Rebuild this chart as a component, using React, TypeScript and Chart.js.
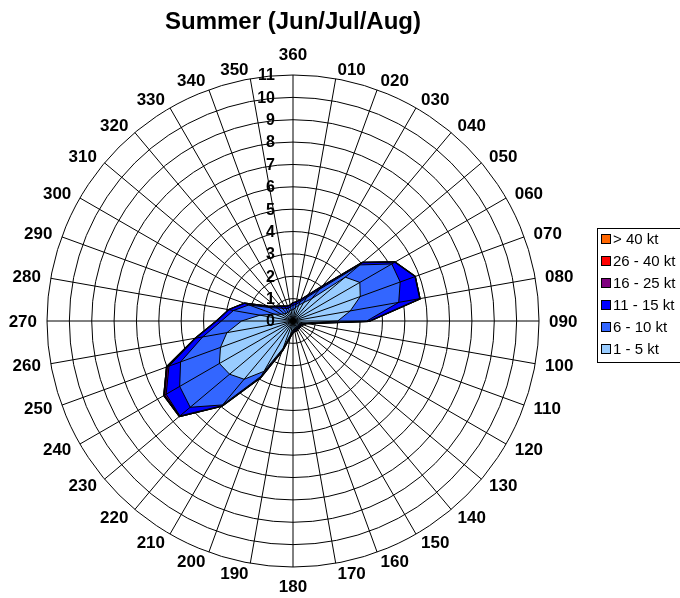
import React, { useEffect, useRef } from "react";
import { Chart, registerables } from "chart.js";

Chart.register(...registerables);

const titleText = "Summer (Jun/Jul/Aug)";

const directions = [
  "360", "010", "020", "030", "040", "050", "060", "070", "080", "090",
  "100", "110", "120", "130", "140", "150", "160", "170", "180", "190",
  "200", "210", "220", "230", "240", "250", "260", "270", "280", "290",
  "300", "310", "320", "330", "340", "350",
];

const seriesLabels = ["1 - 5 kt", "6 - 10 kt", "11 - 15 kt", "16 - 25 kt", "26 - 40 kt", "> 40 kt"];
const seriesColors = ["#99CCFF", "#3366FF", "#0000FF", "#800080", "#FF0000", "#FF6600"];
const seriesBorderWidths = [1, 1, 1, 2, 2, 2];

// cumulative frequency (%) per direction
const kt1to5 = [
  0.5, 0.6, 0.75, 0.95, 1.3, 3.05, 3.45, 3.2, 2.6, 2.0,
  0.5, 0.35, 0.3, 0.3, 0.3, 0.3, 0.35, 0.35, 0.4, 0.6,
  1.3, 2.6, 3.4, 3.7, 3.8, 3.45, 3.0, 2.3, 1.5, 0.9,
  0.6, 0.5, 0.45, 0.45, 0.45, 0.5,
];
const kt6to10 = [
  0.7, 0.75, 0.9, 1.2, 1.85, 3.9, 5.1, 5.1, 4.8, 3.3,
  0.55, 0.4, 0.35, 0.35, 0.35, 0.35, 0.4, 0.4, 0.45, 0.65,
  1.35, 2.85, 4.9, 6.0, 5.85, 5.35, 4.1, 3.2, 2.7, 2.1,
  1.2, 0.9, 0.75, 0.65, 0.6, 0.65,
];
const kt11to15 = [
  0.8, 0.85, 1.0, 1.3, 2.0, 4.05, 5.25, 5.8, 5.75, 3.4,
  0.6, 0.45, 0.4, 0.4, 0.4, 0.4, 0.45, 0.45, 0.5, 0.7,
  1.4, 2.9, 4.95, 6.6, 6.55, 5.9, 4.4, 3.4, 2.9, 2.3,
  1.3, 1.0, 0.85, 0.75, 0.7, 0.7,
];
const kt16to25 = [
  0.8, 0.85, 1.0, 1.3, 2.0, 4.05, 5.25, 5.8, 5.75, 3.4,
  0.6, 0.45, 0.4, 0.4, 0.4, 0.4, 0.45, 0.45, 0.5, 0.7,
  1.4, 2.9, 4.95, 6.62, 6.65, 6.0, 4.4, 3.4, 2.9, 2.3,
  1.3, 1.0, 0.85, 0.75, 0.7, 0.7,
];
const kt26to40 = [
  0.8, 0.85, 1.0, 1.3, 2.0, 4.05, 5.25, 5.8, 5.75, 3.4,
  0.6, 0.45, 0.4, 0.4, 0.4, 0.4, 0.45, 0.45, 0.5, 0.7,
  1.4, 2.9, 4.95, 6.62, 6.65, 6.0, 4.4, 3.4, 2.9, 2.3,
  1.3, 1.0, 0.85, 0.75, 0.7, 0.7,
];
const ktOver40 = [
  0.8, 0.85, 1.0, 1.3, 2.0, 4.05, 5.25, 5.8, 5.75, 3.4,
  0.6, 0.45, 0.4, 0.4, 0.4, 0.4, 0.45, 0.45, 0.5, 0.7,
  1.4, 2.9, 4.95, 6.62, 6.65, 6.0, 4.4, 3.4, 2.9, 2.3,
  1.3, 1.0, 0.85, 0.75, 0.7, 0.7,
];

const seriesData = [kt1to5, kt6to10, kt11to15, kt16to25, kt26to40, ktOver40];

const axisMin = 0;
const axisMax = 11;
const axisStep = 1;

const FONT = "'Liberation Sans', Arial, Helvetica, sans-serif";

const roseOverlay = {
  id: "roseOverlay",
  afterDatasetsDraw(chart: any) {
    const s = chart.scales.r;
    const ctx = chart.ctx;
    const labels: string[] = chart.data.labels;
    ctx.save();
    // spokes on top of the filled areas
    ctx.strokeStyle = "#000";
    ctx.lineWidth = 1;
    for (let i = 0; i < labels.length; i++) {
      const p = s.getPointPosition(i, s.drawingArea);
      ctx.beginPath();
      ctx.moveTo(s.xCenter, s.yCenter);
      ctx.lineTo(p.x, p.y);
      ctx.stroke();
    }
    // direction labels
    ctx.fillStyle = "#000";
    ctx.font = `bold 17px ${FONT}`;
    ctx.textBaseline = "middle";
    labels.forEach((lab, i) => {
      const a = s.getIndexAngle(i);
      const sin = Math.sin(a);
      const cos = Math.cos(a);
      const p = s.getPointPosition(i, s.drawingArea + 10);
      if (Math.abs(sin) < 0.01) {
        ctx.textAlign = "center";
        ctx.fillText(lab, p.x, p.y - cos * 10);
      } else {
        ctx.textAlign = sin > 0 ? "left" : "right";
        ctx.fillText(lab, p.x, p.y + 1);
      }
    });
    // value tick labels
    ctx.font = `bold 16px ${FONT}`;
    ctx.textAlign = "right";
    s.ticks.forEach((t: any) => {
      const d = s.getDistanceFromCenterForValue(t.value);
      ctx.fillText(String(t.value), s.xCenter - 18, s.yCenter - d + 1);
    });
    ctx.restore();
  },
  afterDraw(chart: any) {
    const ctx = chart.ctx;
    const ds = chart.data.datasets;
    const lx = 597, ly = 228, lw = 90, lh = 134;
    ctx.save();
    ctx.strokeStyle = "#000";
    ctx.lineWidth = 1;
    ctx.strokeRect(lx + 0.5, ly + 0.5, lw, lh);
    ctx.font = `15px ${FONT}`;
    ctx.textAlign = "left";
    ctx.textBaseline = "middle";
    for (let r = 0; r < ds.length; r++) {
      const d = ds[ds.length - 1 - r];
      const y = ly + 11 + r * 22;
      ctx.fillStyle = d.backgroundColor;
      ctx.fillRect(lx + 4, y - 5, 10, 10);
      ctx.strokeRect(lx + 4.5, y - 4.5, 9, 9);
      ctx.fillStyle = "#000";
      ctx.fillText(d.label, lx + 16, y + 1);
    }
    ctx.restore();
  },
};

export default function App() {
  const canvasRef = useRef<HTMLCanvasElement | null>(null);

  useEffect(() => {
    document.body.style.margin = "0";
    const canvas = canvasRef.current;
    if (!canvas) return;
    const chart = new Chart(canvas, {
      type: "radar",
      data: {
        labels: directions,
        datasets: seriesData.map((values, i) => ({
          label: seriesLabels[i],
          data: values,
          backgroundColor: seriesColors[i],
          borderColor: "#000",
          borderWidth: seriesBorderWidths[i],
          fill: true,
          pointRadius: 0,
          pointHoverRadius: 0,
          pointHitRadius: 0,
          tension: 0,
        })),
      },
      options: {
        responsive: false,
        animation: false,
        events: [],
        layout: { padding: { left: 47, right: 141, top: 0, bottom: 31 } },
        elements: { line: { borderJoinStyle: "miter" } },
        scales: {
          r: {
            min: axisMin,
            max: axisMax,
            ticks: { display: false, stepSize: axisStep },
            grid: { circular: true, color: "#000", lineWidth: 1 },
            angleLines: { display: false },
            pointLabels: { display: false },
          },
        },
        plugins: {
          legend: { display: false },
          tooltip: { enabled: false },
          title: {
            display: true,
            text: titleText,
            fullSize: false,
            color: "#000",
            font: { family: FONT, size: 24, weight: "bold", lineHeight: 1.2 },
            padding: { top: 7.6, bottom: 38.6 },
          },
        },
      },
      plugins: [roseOverlay],
    });
    return () => chart.destroy();
  }, []);

  return (
    <div style={{ width: 680, height: 598 }}>
      <canvas ref={canvasRef} width={680} height={598} style={{ display: "block" }} />
    </div>
  );
}
